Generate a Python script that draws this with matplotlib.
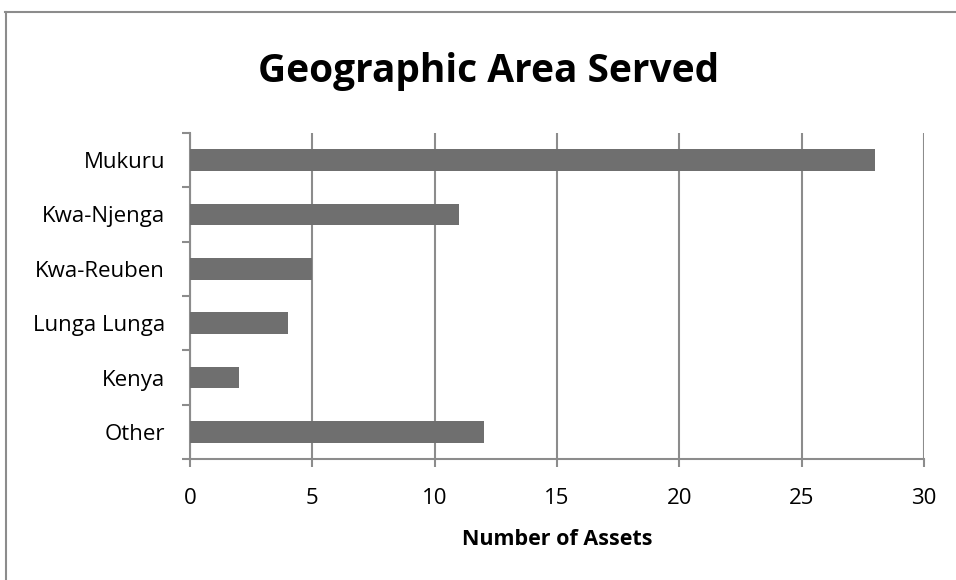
import matplotlib.pyplot as plt
import numpy as np
from matplotlib.lines import Line2D

areas = ["Mukuru", "Kwa-Njenga", "Kwa-Reuben", "Lunga Lunga", "Kenya", "Other"]
assets = [28, 11, 5, 4, 2, 12]
x_ticks = [0, 5, 10, 15, 20, 25, 30]

plt.rcParams['font.family'] = ['Open Sans', 'DejaVu Sans']

grey_line = "#8c8c8c"
bar_color = "#6f6f6f"

fig = plt.figure(figsize=(9.56, 5.8), dpi=100)
ax = fig.add_axes([0.1987, 0.2086, 0.7679, 0.5621])

pos = np.arange(len(areas))[::-1]
ax.barh(pos, assets, height=0.4, color=bar_color, zorder=3)

ax.set_xlim(0, 30)
ax.set_ylim(-0.5, len(areas) - 0.5)
ax.set_xticks(x_ticks)
ax.set_xticklabels([str(t) for t in x_ticks], fontsize=16)
ax.set_yticks(pos)
ax.set_yticklabels(areas, fontsize=16)
ax.set_yticks(np.arange(-0.5, len(areas), 1.0), minor=True)

ax.tick_params(axis='y', which='major', length=0, pad=18)
ax.tick_params(axis='y', which='minor', length=6, width=1.5, color=grey_line)
ax.tick_params(axis='x', length=6, width=1.5, color=grey_line, pad=15)

ax.grid(axis='x', color=grey_line, linewidth=1.5, zorder=0)
for side in ['top', 'right']:
    ax.spines[side].set_visible(False)
for side in ['left', 'bottom']:
    ax.spines[side].set_color(grey_line)
    ax.spines[side].set_linewidth(1.5)

ax.set_xlabel("Number of Assets", fontsize=15.5, fontweight='bold', labelpad=14)
fig.text(0.511, 0.876, "Geographic Area Served", ha='center', va='center',
         fontsize=28, fontweight='bold')

# outer chart border (top and left edges)
fig.add_artist(Line2D([0.005, 1.0], [0.979, 0.979], color=grey_line, linewidth=1.5,
                      transform=fig.transFigure))
fig.add_artist(Line2D([0.0063, 0.0063], [0.0, 0.979], color=grey_line, linewidth=1.5,
                      transform=fig.transFigure))

fig.savefig("out.png", dpi=100)
